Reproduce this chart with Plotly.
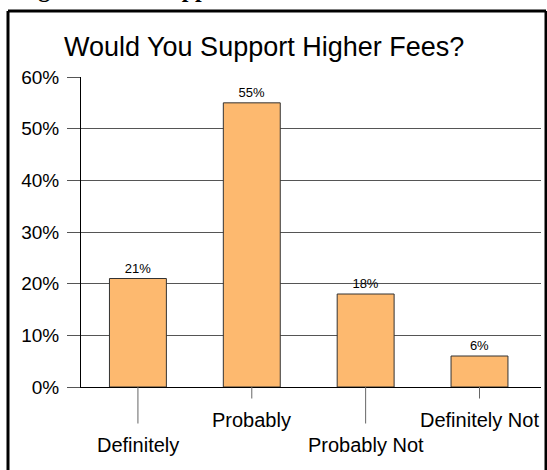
import plotly.graph_objects as go

categories = ["Definitely", "Probably", "Probably Not", "Definitely Not"]
values = [21, 55, 18, 6]
value_labels = ["21%", "55%", "18%", "6%"]
y_ticks = [0, 10, 20, 30, 40, 50, 60]
y_tick_labels = ["0%", "10%", "20%", "30%", "40%", "50%", "60%"]
title_text = "Would You Support Higher Fees?"
caption_parts = ["Figure 1:", "Support"]

W, H = 547, 470
L, R, T, B = 81, 6, 77, 83
PW, PH = W - L - R, H - T - B

def px_x(px):
    return (px - L) / PW

def px_y(py):
    return (H - B - py) / PH

FONT = "Liberation Sans, Arial, sans-serif"
BAR = "#FDB96F"
GRID = "#555555"

fig = go.Figure()
fig.add_trace(go.Bar(
    x=categories, y=values,
    text=value_labels, textposition="outside",
    textfont=dict(family=FONT, size=13, color="#000000"),
    marker=dict(color=BAR, line=dict(color="#333333", width=1)),
    cliponaxis=False, width=0.5,
))

annotations = []
offsets = [58, 33, 58, 33]
for c, off in zip(categories, offsets):
    annotations.append(dict(
        x=c, y=0, xref="x", yref="y", text=c, showarrow=True,
        ax=0, ay=off, arrowhead=0, arrowwidth=1, arrowcolor="#666666",
        startstandoff=9, standoff=0,
        font=dict(family=FONT, size=20, color="#000000"),
    ))

annotations.append(dict(
    x=px_x(264), y=px_y(47), xref="paper", yref="paper",
    text=title_text, showarrow=False, xanchor="center", yanchor="middle",
    font=dict(family=FONT, size=27, color="#000000"),
))

SERIF = "Liberation Serif, Times New Roman, serif"
for part, xp in zip(caption_parts, [15, 153]):
    annotations.append(dict(
        x=px_x(xp), y=px_y(4), xref="paper", yref="paper",
        text="<b>" + part + "</b>", showarrow=False,
        xanchor="left", yanchor="bottom",
        font=dict(family=SERIF, size=24, color="#000000"),
    ))

shapes = []
bl, br, bt, bb = 8, 546, 11, 480
for (x0, y0, x1, y1) in [(bl, bt, bl, bb), (bl, bt, br, bt), (br, bt, br, bb)]:
    shapes.append(dict(
        type="line", xref="paper", yref="paper",
        x0=px_x(x0), x1=px_x(x1), y0=px_y(y0), y1=px_y(y1),
        line=dict(color="#000000", width=3),
    ))

fig.update_layout(
    width=W, height=H,
    margin=dict(l=L, r=R, t=T, b=B, pad=0),
    paper_bgcolor="#ffffff", plot_bgcolor="#ffffff",
    showlegend=False,
    bargap=0.5,
    annotations=annotations,
    shapes=shapes,
    font=dict(family=FONT, color="#000000"),
)
fig.update_xaxes(
    type="category", showticklabels=False, ticks="",
    showline=True, linecolor="#000000", linewidth=1,
    showgrid=False, zeroline=False,
)
fig.update_yaxes(
    range=[0, 60], tickvals=y_ticks, ticktext=y_tick_labels,
    ticks="outside", ticklen=13, tickcolor=GRID, tickwidth=1,
    ticklabelstandoff=4,
    showgrid=True, gridcolor=GRID, gridwidth=1,
    showline=True, linecolor="#000000", linewidth=1,
    zeroline=False,
    tickfont=dict(family=FONT, size=19, color="#000000"),
)

fig.write_html("out.html")
